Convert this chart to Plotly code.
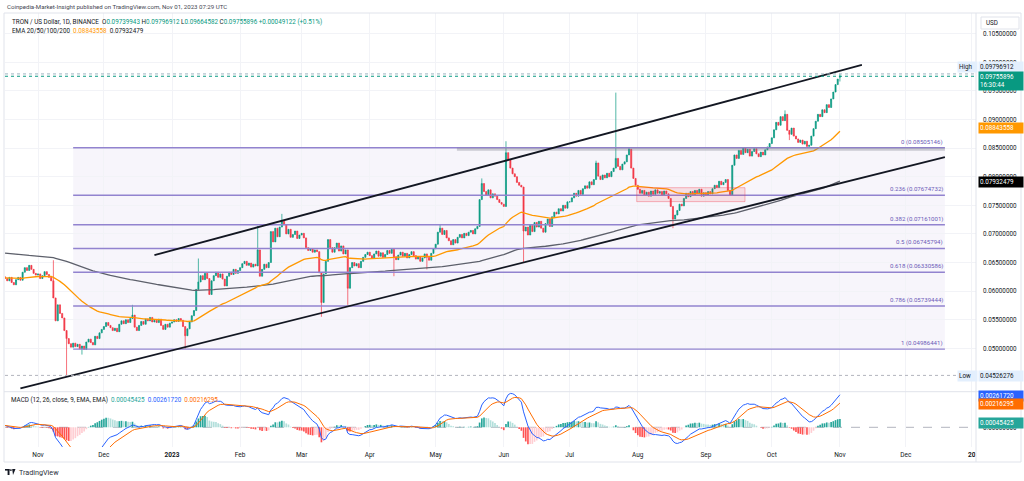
import pandas as pd
import plotly.graph_objects as go

W, H = 1024, 481

# ------------------------------------------------------------------ data
START_DATE = "2022-10-17"
END_DATE = "2023-11-01"

close_2022_10 = [0.0622, 0.0618, 0.0624, 0.0615, 0.0611, 0.0620, 0.0624, 0.0619, 0.0633, 0.0641,
                 0.0636, 0.0645, 0.0638, 0.0631, 0.0628]
close_2022_11 = [0.0630, 0.0622, 0.0627, 0.0634, 0.0629, 0.0624, 0.0618, 0.0588, 0.0548, 0.0576,
                 0.0561, 0.0553, 0.0531, 0.0517, 0.0508, 0.0502, 0.0509, 0.0503, 0.0507, 0.0499,
                 0.0504, 0.0498, 0.0511, 0.0516, 0.0510, 0.0506, 0.0521, 0.0517, 0.0527, 0.0533]
close_2022_12 = [0.0538, 0.0545, 0.0540, 0.0536, 0.0531, 0.0535, 0.0529, 0.0542, 0.0548, 0.0543,
                 0.0550, 0.0545, 0.0552, 0.0558, 0.0537, 0.0531, 0.0540, 0.0547, 0.0542, 0.0551,
                 0.0548, 0.0554, 0.0546, 0.0549, 0.0545, 0.0551, 0.0540, 0.0533, 0.0542, 0.0537, 0.0544]
close_2023_01 = [0.0546, 0.0550, 0.0547, 0.0552, 0.0549, 0.0538, 0.0522, 0.0534, 0.0546, 0.0557,
                 0.0566, 0.0603, 0.0616, 0.0627, 0.0620, 0.0631, 0.0622, 0.0594, 0.0618, 0.0627,
                 0.0633, 0.0624, 0.0630, 0.0621, 0.0609, 0.0626, 0.0633, 0.0629, 0.0638, 0.0631, 0.0636]
close_2023_02 = [0.0641, 0.0648, 0.0652, 0.0645, 0.0649, 0.0642, 0.0647, 0.0644, 0.0672, 0.0626,
                 0.0638, 0.0647, 0.0641, 0.0650, 0.0704, 0.0686, 0.0710, 0.0695, 0.0712, 0.0722,
                 0.0716, 0.0700, 0.0708, 0.0694, 0.0699, 0.0705, 0.0692, 0.0698]
close_2023_03 = [0.0701, 0.0693, 0.0676, 0.0671, 0.0674, 0.0668, 0.0672, 0.0669, 0.0632, 0.0580,
                 0.0630, 0.0652, 0.0690, 0.0676, 0.0668, 0.0676, 0.0684, 0.0670, 0.0679, 0.0665,
                 0.0672, 0.0605, 0.0641, 0.0650, 0.0644, 0.0648, 0.0641, 0.0652, 0.0659, 0.0664, 0.0668]
close_2023_04 = [0.0662, 0.0657, 0.0665, 0.0670, 0.0661, 0.0667, 0.0659, 0.0664, 0.0671, 0.0666,
                 0.0673, 0.0660, 0.0655, 0.0663, 0.0668, 0.0661, 0.0666, 0.0658, 0.0664, 0.0669,
                 0.0662, 0.0656, 0.0660, 0.0652, 0.0658, 0.0665, 0.0659, 0.0654, 0.0666, 0.0674]
close_2023_05 = [0.0682, 0.0703, 0.0710, 0.0699, 0.0706, 0.0693, 0.0688, 0.0681, 0.0690, 0.0684,
                 0.0694, 0.0699, 0.0693, 0.0701, 0.0697, 0.0703, 0.0706, 0.0700, 0.0709, 0.0713,
                 0.0760, 0.0788, 0.0774, 0.0768, 0.0777, 0.0763, 0.0770, 0.0766, 0.0760, 0.0755, 0.0752]
close_2023_06 = [0.0748, 0.0842, 0.0830, 0.0815, 0.0805, 0.0800, 0.0790, 0.0785, 0.0782, 0.0705,
                 0.0712, 0.0698, 0.0715, 0.0704, 0.0720, 0.0712, 0.0722, 0.0710, 0.0703, 0.0718,
                 0.0726, 0.0713, 0.0730, 0.0738, 0.0735, 0.0744, 0.0740, 0.0750, 0.0745, 0.0756]
close_2023_07 = [0.0756, 0.0763, 0.0771, 0.0766, 0.0776, 0.0769, 0.0779, 0.0784, 0.0780, 0.0791,
                 0.0786, 0.0795, 0.0824, 0.0801, 0.0795, 0.0803, 0.0798, 0.0806, 0.0800, 0.0809,
                 0.0815, 0.0832, 0.0818, 0.0812, 0.0822, 0.0826, 0.0838, 0.0848, 0.0815, 0.0797, 0.0785]
close_2023_08 = [0.0778, 0.0771, 0.0776, 0.0768, 0.0773, 0.0766, 0.0775, 0.0769, 0.0777, 0.0771,
                 0.0774, 0.0768, 0.0775, 0.0770, 0.0762, 0.0748, 0.0726, 0.0733, 0.0741, 0.0752,
                 0.0749, 0.0762, 0.0771, 0.0765, 0.0774, 0.0768, 0.0776, 0.0770, 0.0778, 0.0766, 0.0772]
close_2023_09 = [0.0768, 0.0774, 0.0770, 0.0779, 0.0785, 0.0781, 0.0792, 0.0786, 0.0790, 0.0795,
                 0.0776, 0.0768, 0.0820, 0.0838, 0.0832, 0.0846, 0.0839, 0.0850, 0.0842, 0.0848,
                 0.0836, 0.0844, 0.0849, 0.0840, 0.0835, 0.0843, 0.0838, 0.0847, 0.0852, 0.0858]
close_2023_10 = [0.0868, 0.0882, 0.0895, 0.0890, 0.0905, 0.0898, 0.0909, 0.0881, 0.0874, 0.0885,
                 0.0871, 0.0866, 0.0860, 0.0864, 0.0857, 0.0862, 0.0853, 0.0855, 0.0871, 0.0884,
                 0.0897, 0.0909, 0.0905, 0.0917, 0.0912, 0.0926, 0.0921, 0.0936, 0.0948, 0.0961, 0.09706774]
close_2023_11 = [0.09755896]

FIRST_OPEN = 0.0625
LAST_OPEN = 0.09739943
LAST_HIGH = 0.09796912
LAST_LOW = 0.09664582
LAST_CHANGE = "+0.00049122 (+0.51%)"

# notable wicks
wick_high = {"2022-11-08": 0.0654, "2022-12-14": 0.0576, "2023-01-13": 0.0657, "2023-02-09": 0.0714,
             "2023-02-20": 0.0735, "2023-05-03": 0.0716, "2023-05-22": 0.0797, "2023-06-02": 0.0862,
             "2023-07-13": 0.0828, "2023-07-22": 0.0947, "2023-07-28": 0.08505146, "2023-10-07": 0.0916}
wick_low = {"2022-11-14": 0.04526276, "2022-11-21": 0.0489, "2023-01-07": 0.0499, "2023-03-10": 0.0555,
            "2023-03-22": 0.0576, "2023-04-12": 0.0626, "2023-04-27": 0.0638, "2023-06-10": 0.0650,
            "2023-08-17": 0.0710, "2023-10-09": 0.0864}

# indicator seeds (values of the lines at the left edge of the picture)
EMA50_SEED = 0.0623
EMA200_SEED = 0.0667
EMA12_SEED = 0.0626
EMA26_SEED = 0.0624
SIGNAL_SEED = 0.00015

# values printed in the legends / price scale
EMA50_LAST = 0.08843558
EMA200_LAST = 0.07932479
MACD_LAST = 0.00261720
SIGNAL_LAST = 0.00216295
HIST_LAST = 0.00045425
PRICE_HIGH = 0.09796912
PRICE_LOW = 0.04526276

fib_ratios = ["0", "0.236", "0.382", "0.5", "0.618", "0.786", "1"]
fib_prices = [0.08505146, 0.07674732, 0.07161001, 0.06745794, 0.06330586, 0.05739444, 0.04986441]
fib_start, fib_end = "2022-11-17", "2023-12-18 19:00"

trend_upper = [("2022-12-24", 0.06631), ("2023-11-11", 0.09953)]
trend_lower = [("2022-10-24", 0.04301), ("2023-12-18 19:00", 0.08344)]
range_box = [("2023-07-31 12:00", 0.07564), ("2023-09-18 19:00", 0.07808)]
resistance = [("2023-05-10 16:00", 0.08478), ("2023-12-18 19:00", 0.08478)]

month_ticks = ["2022-11-01", "2022-12-01", "2023-01-01", "2023-02-01", "2023-03-01", "2023-04-01",
               "2023-05-01", "2023-06-01", "2023-07-01", "2023-08-01", "2023-09-01", "2023-10-01",
               "2023-11-01", "2023-12-01", "2023-12-31"]
month_labels = ["Nov", "Dec", "<b>2023</b>", "Feb", "Mar", "Apr", "May", "Jun", "Jul", "Aug", "Sep",
                "Oct", "Nov", "Dec", "<b>20</b>"]
price_ticks = [0.050, 0.055, 0.060, 0.065, 0.070, 0.075, 0.080, 0.085, 0.090, 0.095, 0.100, 0.105]

# ------------------------------------------------------------------ build series
dates = pd.date_range(START_DATE, END_DATE, freq="D")
closes = (close_2022_10 + close_2022_11 + close_2022_12 + close_2023_01 + close_2023_02 +
          close_2023_03 + close_2023_04 + close_2023_05 + close_2023_06 + close_2023_07 +
          close_2023_08 + close_2023_09 + close_2023_10 + close_2023_11)
assert len(closes) == len(dates), (len(closes), len(dates))
opens = [FIRST_OPEN] + closes[:-1]
opens[-1] = LAST_OPEN
highs = [max(o, c) for o, c in zip(opens, closes)]
lows = [min(o, c) for o, c in zip(opens, closes)]
highs[-1], lows[-1] = LAST_HIGH, LAST_LOW
idx = {d.strftime("%Y-%m-%d"): i for i, d in enumerate(dates)}
for d, v in wick_high.items():
    highs[idx[d]] = max(highs[idx[d]], v)
for d, v in wick_low.items():
    lows[idx[d]] = min(lows[idx[d]], v)


def ema(values, span, seed):
    k = 2.0 / (span + 1)
    out, e = [], seed
    for v in values:
        e += k * (v - e)
        out.append(e)
    return out


ema50 = ema(closes, 50, EMA50_SEED)
ema200 = ema(closes, 200, EMA200_SEED)
e12 = ema(closes, 12, EMA12_SEED)
e26 = ema(closes, 26, EMA26_SEED)
macd = [a - b for a, b in zip(e12, e26)]
signal = ema(macd, 9, SIGNAL_SEED)
hist = [m - s for m, s in zip(macd, signal)]
hist_colors = []
prev = 0.0
for h in hist:
    if h >= 0:
        hist_colors.append("#26A69A" if h >= prev else "#B2DFDB")
    else:
        hist_colors.append("#FF5252" if h < prev else "#FFCDD2")
    prev = h

# ------------------------------------------------------------------ geometry
X0, X1 = 5, 976            # plot area, px
MAIN_TOP, MAIN_BOT = 13, 391.7
MACD_TOP, MACD_BOT = 392, 447
P_PER_PX = 1 / 5720.0
MAIN_RANGE = [0.05 - (MAIN_BOT - 348.3) * P_PER_PX, 0.05 + (348.3 - MAIN_TOP) * P_PER_PX]
M_PER_PX = 1 / 12070.0
MACD_RANGE = [-(MACD_BOT - 427.3) * M_PER_PX, (427.3 - MACD_TOP) * M_PER_PX]


def px(x):
    return x / W


def py(y):
    return 1 - y / H


FONT = "Roboto, 'Liberation Sans', sans-serif"
TXT = "#131722"
GRID = "#f2f3f7"
BORDER = "#e0e3eb"

fig = go.Figure()
fig.add_trace(go.Scatter(x=dates, y=ema200, mode="lines", line=dict(color="#5d606b", width=1.3),
                         hoverinfo="skip", showlegend=False, xaxis="x", yaxis="y"))
fig.add_trace(go.Scatter(x=dates, y=ema50, mode="lines", line=dict(color="#FF9800", width=1.3),
                         hoverinfo="skip", showlegend=False, xaxis="x", yaxis="y"))
fig.add_trace(go.Candlestick(
    x=dates, open=opens, high=highs, low=lows, close=closes,
    increasing=dict(line=dict(color="#089981", width=0.7), fillcolor="#089981"),
    decreasing=dict(line=dict(color="#F23645", width=0.7), fillcolor="#F23645"),
    whiskerwidth=0, hoverinfo="skip", showlegend=False, xaxis="x", yaxis="y"))

fig.add_trace(go.Bar(x=dates, y=hist, marker=dict(color=hist_colors, line=dict(width=0)),
                     hoverinfo="skip", showlegend=False, xaxis="x", yaxis="y2"))
fig.add_trace(go.Scatter(x=dates, y=macd, mode="lines", line=dict(color="#2962FF", width=1),
                         hoverinfo="skip", showlegend=False, xaxis="x", yaxis="y2"))
fig.add_trace(go.Scatter(x=dates, y=signal, mode="lines", line=dict(color="#FF6D00", width=1),
                         hoverinfo="skip", showlegend=False, xaxis="x", yaxis="y2"))

shapes = []
# fib fill + levels
shapes.append(dict(type="rect", xref="x", yref="y", x0=fib_start, x1=fib_end, y0=fib_prices[-1],
                   y1=fib_prices[0], fillcolor="rgba(126,87,194,0.06)", line=dict(width=0), layer="below"))
for p in fib_prices:
    shapes.append(dict(type="line", xref="x", yref="y", x0=fib_start, x1=fib_end, y0=p, y1=p,
                       line=dict(color="#9283cf", width=1.4), layer="above"))
# resistance ray & range box
shapes.append(dict(type="line", xref="x", yref="y", x0=resistance[0][0], x1=resistance[1][0],
                   y0=resistance[0][1], y1=resistance[1][1],
                   line=dict(color="rgba(120,123,134,0.35)", width=3), layer="above"))
shapes.append(dict(type="rect", xref="x", yref="y", x0=range_box[0][0], x1=range_box[1][0],
                   y0=range_box[0][1], y1=range_box[1][1], fillcolor="rgba(242,54,69,0.12)",
                   line=dict(color="rgba(242,54,69,0.35)", width=1), layer="above"))
# channel
for a, b in (trend_upper, trend_lower):
    shapes.append(dict(type="line", xref="x", yref="y", x0=a[0], y0=a[1], x1=b[0], y1=b[1],
                       line=dict(color="#131722", width=1.8), layer="above"))
# high / low / last price dotted lines
shapes.append(dict(type="line", xref="paper", yref="y", x0=px(X0), x1=px(X1), y0=PRICE_HIGH, y1=PRICE_HIGH,
                   line=dict(color="#9db4c0", width=1, dash="dot"), layer="above"))
shapes.append(dict(type="line", xref="paper", yref="y", x0=px(X0), x1=px(X1), y0=closes[-1], y1=closes[-1],
                   line=dict(color="#089981", width=1, dash="dot"), layer="above"))
shapes.append(dict(type="line", xref="paper", yref="y", x0=px(X0), x1=px(X1), y0=PRICE_LOW, y1=PRICE_LOW,
                   line=dict(color="#b2b5be", width=1, dash="dot"), layer="above"))
# MACD zero line
shapes.append(dict(type="line", xref="paper", yref="y2", x0=px(X0), x1=px(X1), y0=0, y1=0,
                   line=dict(color="#b2b5be", width=1, dash="dash"), layer="below"))
# frame / separators
shapes.append(dict(type="rect", xref="paper", yref="paper", x0=px(4), x1=px(1021), y0=py(462), y1=py(13),
                   line=dict(color=BORDER, width=1), layer="above"))
shapes.append(dict(type="line", xref="paper", yref="paper", x0=px(X1), x1=px(X1), y0=py(462), y1=py(13),
                   line=dict(color=BORDER, width=1), layer="above"))
shapes.append(dict(type="line", xref="paper", yref="paper", x0=px(4), x1=px(1021), y0=py(391.7), y1=py(391.7),
                   line=dict(color=BORDER, width=1), layer="above"))
# USD box
shapes.append(dict(type="rect", xref="paper", yref="paper", x0=px(981), x1=px(1019), y0=py(29), y1=py(17),
                   line=dict(color=BORDER, width=1), fillcolor="white", layer="above"))
# TradingView logo (simple glyph)
shapes.append(dict(type="rect", xref="paper", yref="paper", x0=px(5), x1=px(9.5), y0=py(470.6), y1=py(469),
                   line=dict(width=0), fillcolor=TXT, layer="above"))
shapes.append(dict(type="rect", xref="paper", yref="paper", x0=px(7.6), x1=px(9.5), y0=py(475), y1=py(469),
                   line=dict(width=0), fillcolor=TXT, layer="above"))
shapes.append(dict(type="circle", xref="paper", yref="paper", x0=px(10), x1=px(11.8), y0=py(471), y1=py(469.2),
                   line=dict(width=0), fillcolor=TXT, layer="above"))
shapes.append(dict(type="path", xref="paper", yref="paper",
                   path=f"M {px(12.2)} {py(469)} L {px(15.5)} {py(469)} L {px(13)} {py(475)} Z",
                   line=dict(width=0), fillcolor=TXT, layer="above"))

ann = []


def text(x, y, s, size=6.3, color=TXT, anchor="left"):
    ann.append(dict(xref="paper", yref="paper", x=px(x), y=py(y), text=s, showarrow=False,
                    xanchor=anchor, yanchor="middle", font=dict(family=FONT, size=size, color=color)))


def g(v):
    return f"<span style='color:#089981'>{v}</span>"


text(5, 6.3, "Coinpedia-Market-Insight published on TradingView.com, Nov 01, 2023 07:29 UTC", 6.1, "#434651")
text(10, 22.3, "TRON / US Dollar, 1D, BINANCE&nbsp;&nbsp;O" + g(f"{opens[-1]:.8f}") + "&nbsp;H" +
     g(f"{highs[-1]:.8f}") + "&nbsp;L" + g(f"{lows[-1]:.8f}") + "&nbsp;C" + g(f"{closes[-1]:.8f}") +
     "&nbsp;" + g(LAST_CHANGE))
text(10, 30.8, "EMA 20/50/100/200&nbsp;&nbsp;<span style='color:#FF9800'>" + f"{EMA50_LAST:.8f}" +
     "</span>&nbsp;&nbsp;" + f"{EMA200_LAST:.8f}")
text(9, 400, "MACD (12, 26, close, 9, EMA, EMA)&nbsp;&nbsp;<span style='color:#26A69A'>" + f"{HIST_LAST:.8f}" +
     "</span>&nbsp;&nbsp;<span style='color:#2962FF'>" + f"{MACD_LAST:.8f}" +
     "</span>&nbsp;&nbsp;<span style='color:#FF6D00'>" + f"{SIGNAL_LAST:.8f}" + "</span>")
text(17, 472.5, "TradingView", 7.2, "#2a2e39")
text(984, 23, "USD", 6.3)

# fib labels
for r, p in zip(fib_ratios, fib_prices):
    ann.append(dict(xref="x", yref="y", x=fib_end, y=p, text=f"{r} ({p:.8f})", showarrow=False,
                    xanchor="right", yanchor="bottom", yshift=0,
                    font=dict(family=FONT, size=6.1, color="#6c5bb8")))


def tag(yref, y, s, bg, fg, yshift=0, left=978, width=42, yanchor="middle"):
    ann.append(dict(xref="paper", yref=yref, x=px(left), y=y, text=s, showarrow=False, xanchor="left",
                    yanchor=yanchor, yshift=yshift, bgcolor=bg, width=width, align="left", borderpad=1,
                    font=dict(family=FONT, size=6.3, color=fg)))


tag("y", PRICE_HIGH, f"{PRICE_HIGH:.8f}", "#e3effd", TXT, yshift=7)
tag("y", PRICE_HIGH, "High", "#e3effd", TXT, yshift=7, left=957, width=17)
tag("y", closes[-1], f"{closes[-1]:.8f}<br>16:30:44", "#089981", "white", yshift=5, yanchor="top")
tag("y", EMA50_LAST, f"{EMA50_LAST:.8f}", "#FF9800", "white")
tag("y", EMA200_LAST, f"{EMA200_LAST:.8f}", "#000000", "white", yshift=-1)
tag("y", PRICE_LOW, f"{PRICE_LOW:.8f}", "#e3effd", TXT, yshift=-1)
tag("y", PRICE_LOW, "Low", "#e3effd", TXT, yshift=-1, left=957, width=17)
tag("y2", MACD_LAST, f"{MACD_LAST:.8f}", "#2962FF", "white")
tag("y2", SIGNAL_LAST, f"{SIGNAL_LAST:.8f}", "#FF6D00", "white", yshift=-3)
tag("y2", HIST_LAST, f"{HIST_LAST:.8f}", "#26A69A", "white", yshift=-1)

fig.update_layout(
    width=W, height=H, margin=dict(l=0, r=0, t=0, b=0),
    paper_bgcolor="white", plot_bgcolor="white", showlegend=False, bargap=0.25,
    font=dict(family=FONT, size=6.3, color=TXT),
    xaxis=dict(domain=[px(X0), px(X1)], anchor="y2", type="date",
               range=["2022-10-16 23:30", "2024-01-01 22:30"],
               tickvals=month_ticks, ticktext=month_labels, tickfont=dict(size=6.5, color=TXT),
               showgrid=True, gridcolor=GRID, gridwidth=1, zeroline=False, showline=False, ticks="",
               ticklabelstandoff=2, rangeslider=dict(visible=False), fixedrange=True),
    yaxis=dict(domain=[py(MAIN_BOT), py(MAIN_TOP)], range=MAIN_RANGE, side="right", anchor="x",
               tickvals=price_ticks, tickformat=".8f", tickfont=dict(size=6.3, color=TXT),
               showgrid=True, gridcolor=GRID, zeroline=False, showline=False, ticks="",
               ticklabelstandoff=6, fixedrange=True),
    yaxis2=dict(domain=[py(MACD_BOT), py(MACD_TOP)], range=MACD_RANGE, side="right", anchor="x",
                tickvals=[0], tickformat=".8f", tickfont=dict(size=6.3, color=TXT),
                showgrid=False, zeroline=False, showline=False, ticks="", ticklabelstandoff=6,
                fixedrange=True),
    shapes=shapes, annotations=ann,
)

fig.write_html("out.html", config={"staticPlot": True},
               post_script="document.body.style.margin='0px';document.body.style.overflow='hidden';")
